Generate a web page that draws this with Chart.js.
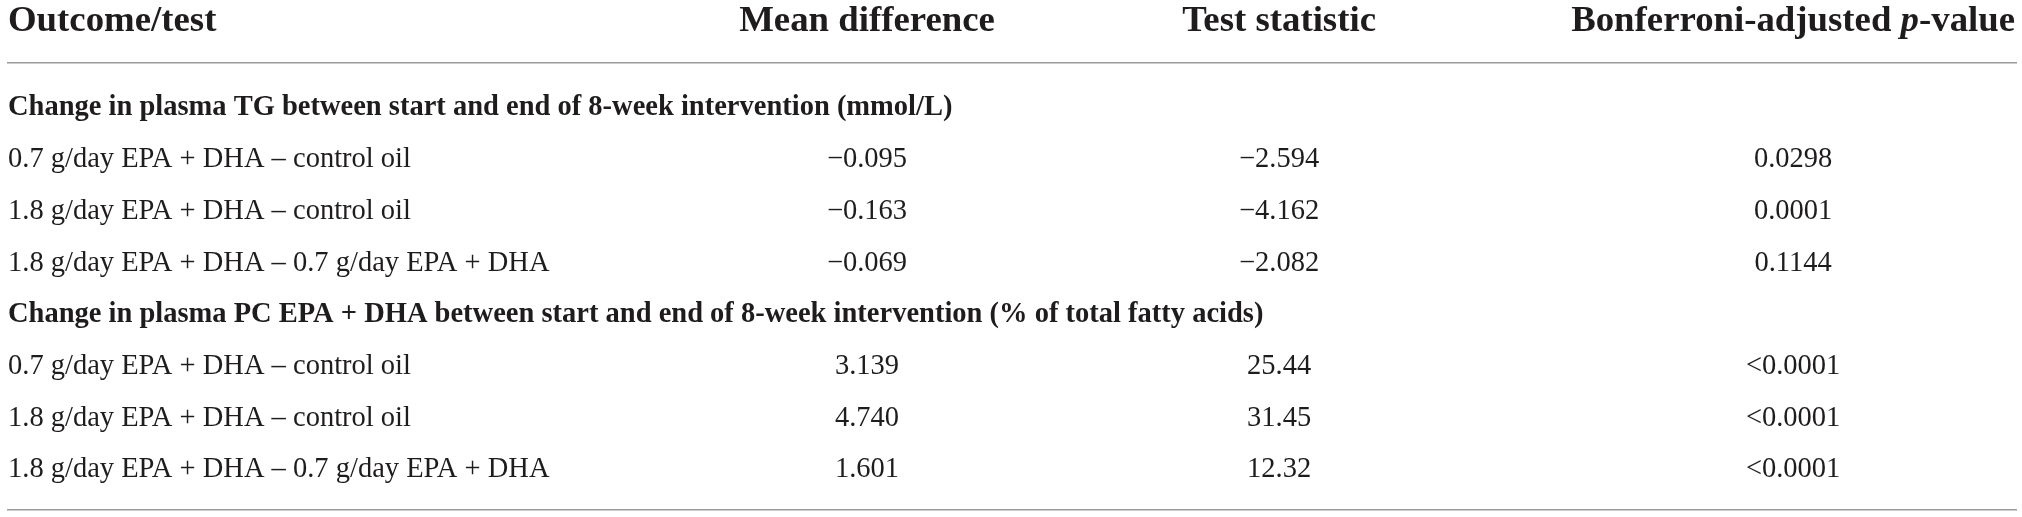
<!DOCTYPE html>
<html><head><meta charset="utf-8">
<script src="https://cdn.jsdelivr.net/npm/chart.js@4.4.1/dist/chart.umd.min.js"></script>
<style>html,body{margin:0;padding:0;background:#fff;overflow:hidden}#wrap{width:2022px;height:517px}</style>
</head><body><div id="wrap"><canvas id="c" width="2022" height="517"></canvas></div>
<script>
// ---- data ----
const columnHeaders = ['Outcome/test', 'Mean difference', 'Test statistic', 'Bonferroni-adjusted p-value'];
const sectionTitles = [
  'Change in plasma TG between start and end of 8-week intervention (mmol/L)',
  'Change in plasma PC EPA + DHA between start and end of 8-week intervention (% of total fatty acids)'
];
const comparisons = [
  '0.7 g/day EPA + DHA \u2013 control oil',
  '1.8 g/day EPA + DHA \u2013 control oil',
  '1.8 g/day EPA + DHA \u2013 0.7 g/day EPA + DHA'
];
const tgMeanDiff = [-0.095, -0.163, -0.069];
const tgTestStat = [-2.594, -4.162, -2.082];
const tgPValue = ['0.0298', '0.0001', '0.1144'];
const pcMeanDiff = [3.139, 4.740, 1.601];
const pcTestStat = [25.44, 31.45, 12.32];
const pcPValue = ['<0.0001', '<0.0001', '<0.0001'];

// ---- layout / style ----
const FONT = '"Liberation Serif", "Times New Roman", serif';
const TEXT = '#1f1c1d';
const RULE = '#9b9b9b';
const BODY_PX = 28.5;
const HEAD_PX = 36.8;
const colAnchor = [0, 0.4278, 0.633, 0.889];   // fraction of table width
const fmt = (v, d) => (v < 0 ? '\u2212' : '') + Math.abs(v).toFixed(d);

// build row model
const rows = [];
const sections = [
  {title: sectionTitles[0], md: tgMeanDiff, ts: tgTestStat, p: tgPValue, dMd: 3, dTs: 3},
  {title: sectionTitles[1], md: pcMeanDiff, ts: pcTestStat, p: pcPValue, dMd: 3, dTs: 2}
];
sections.forEach(s => {
  rows.push({section: true, cells: [s.title]});
  comparisons.forEach((c, i) => {
    rows.push({section: false, cells: [c, fmt(s.md[i], s.dMd), fmt(s.ts[i], s.dTs), s.p[i]]});
  });
});

// one dataset per column: points positioned through the scales
const datasets = colAnchor.map((ax, ci) => ({
  label: columnHeaders[ci],
  data: rows.map((r, ri) => r.cells[ci] !== undefined ? {x: ax, y: ri, text: r.cells[ci], bold: r.section} : null).filter(Boolean),
  pointRadius: 0, pointHoverRadius: 0, showLine: false
}));

const tablePlugin = {
  id: 'tableText',
  afterDatasetsDraw(chart) {
    const ctx = chart.ctx;
    const xs = chart.scales.x;
    const top = chart.chartArea.top;
    ctx.save();
    ctx.fillStyle = TEXT;
    ctx.textBaseline = 'middle';
    // cells
    chart.data.datasets.forEach((ds, di) => {
      const meta = chart.getDatasetMeta(di);
      meta.data.forEach((pt, i) => {
        const d = ds.data[i];
        ctx.font = (d.bold ? 'bold ' : '') + BODY_PX + 'px ' + FONT;
        ctx.textAlign = di === 0 ? 'left' : 'center';
        ctx.fillText(d.text, pt.x, pt.y);
      });
    });
    // header row
    const hy = top - 42;
    ctx.font = 'bold ' + HEAD_PX + 'px ' + FONT;
    for (let ci = 0; ci < 3; ci++) {
      ctx.textAlign = ci === 0 ? 'left' : 'center';
      ctx.fillText(columnHeaders[ci], xs.getPixelForValue(colAnchor[ci]), hy);
    }
    // header with italic p
    const h = columnHeaders[3];
    const k = h.indexOf(' p-') + 1;
    const parts = [[h.slice(0, k), 'bold '], [h[k], 'italic bold '], [h.slice(k + 1), 'bold ']];
    let total = 0;
    parts.forEach(p => { ctx.font = p[1] + HEAD_PX + 'px ' + FONT; total += ctx.measureText(p[0]).width; });
    let x = xs.getPixelForValue(colAnchor[3]) - total / 2;
    ctx.textAlign = 'left';
    parts.forEach(p => { ctx.font = p[1] + HEAD_PX + 'px ' + FONT; ctx.fillText(p[0], x, hy); x += ctx.measureText(p[0]).width; });
    ctx.restore();
  }
};

new Chart(document.getElementById('c'), {
  type: 'scatter',
  data: {datasets},
  options: {
    responsive: false, animation: false, devicePixelRatio: 1,
    layout: {padding: {left: 8, right: 6, top: 63, bottom: 7}},
    plugins: {legend: {display: false}, tooltip: {enabled: false}},
    events: [],
    scales: {
      x: {type: 'linear', position: 'bottom', min: 0, max: 1,
          ticks: {display: false}, grid: {display: false, drawTicks: false},
          border: {display: true, color: RULE, width: 1.5}},
      x2: {type: 'linear', position: 'top', min: 0, max: 1,
          ticks: {display: false}, grid: {display: false, drawTicks: false},
          border: {display: true, color: RULE, width: 1.5}},
      y: {type: 'linear', reverse: true, min: -0.87, max: 7.774, display: false}
    }
  },
  plugins: [tablePlugin]
});
</script>
</body></html>
